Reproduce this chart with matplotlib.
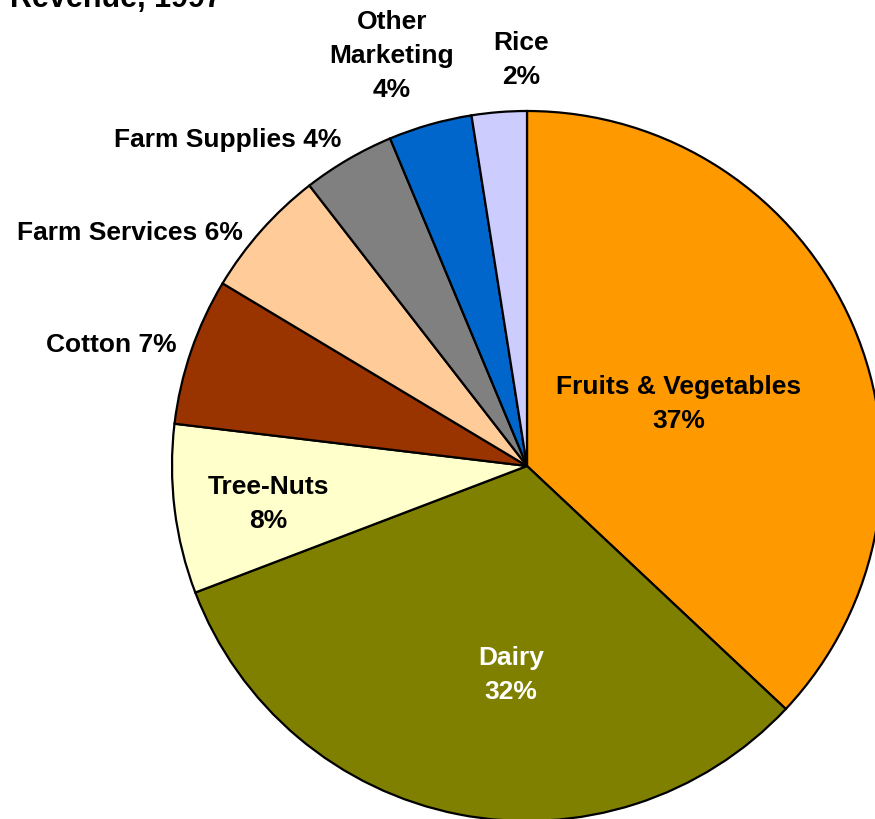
import matplotlib
matplotlib.use("Agg")
import matplotlib.pyplot as plt

plt.rcParams['font.family'] = ['Liberation Sans', 'DejaVu Sans']

categories = ["Fruits & Vegetables", "Dairy", "Tree-Nuts", "Cotton",
              "Farm Services", "Farm Supplies", "Other Marketing", "Rice"]
shares = [37.0, 32.2, 7.7, 6.7, 5.9, 4.2, 3.8, 2.5]
pct_labels = ["37%", "32%", "8%", "7%", "6%", "4%", "4%", "2%"]
colors = ["#FF9900", "#808000", "#FFFFCC", "#993300",
          "#FFCC99", "#808080", "#0066CC", "#CCCCFF"]

# label text layout (pixel coords, y downward)
label_text = ["Fruits & Vegetables\n37%", "Dairy\n32%", "Tree-Nuts\n8%",
              "Cotton 7%", "Farm Services 6%", "Farm Supplies 4%",
              "Other\nMarketing\n4%", "Rice\n2%"]
label_pos = [(679, 404), (511, 675), (268, 504), (111, 345),
             (130, 233), (228, 140), (392, 56), (521, 60)]
label_col = ["black", "white", "black", "black", "black", "black", "black", "black"]

W, H = 875, 820
fig = plt.figure(figsize=(W / 100, H / 100), dpi=100)
ax = fig.add_axes([0, 0, 1, 1])
ax.set_xlim(0, W)
ax.set_ylim(-H, 0)
ax.set_aspect('equal')
ax.axis('off')

ax.pie(shares, colors=colors, startangle=90, counterclock=False,
       center=(527, -467), radius=355, normalize=True,
       wedgeprops=dict(edgecolor='black', linewidth=1.6))
ax.set_xlim(0, W)
ax.set_ylim(-H, 0)

for txt, (x, y), c in zip(label_text, label_pos, label_col):
    ax.text(x, -y, txt, ha='center', va='center', fontsize=19,
            fontweight='bold', color=c, linespacing=1.55)

fig.text(10 / W, 1 - 7 / H, "Revenue, 1997", ha='left', va='baseline',
         fontsize=22, fontweight='bold')

fig.savefig("out.png", dpi=100)
